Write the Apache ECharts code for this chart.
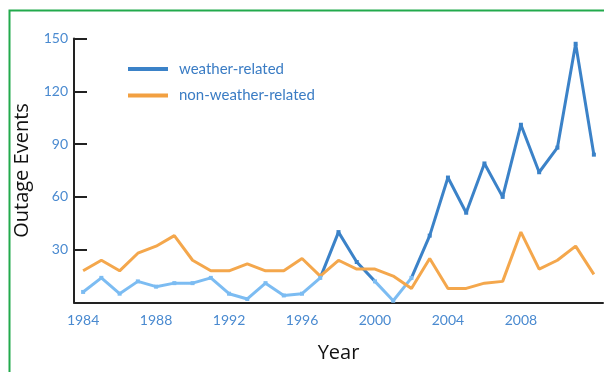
<!DOCTYPE html>
<html><head><meta charset="utf-8">
<script src="https://cdn.jsdelivr.net/npm/echarts@6/dist/echarts.min.js"></script>
<style>html,body{margin:0;padding:0;background:#fff}#c{width:604px;height:372px}</style>
</head><body><div id="c"></div>
<script>
var years = [];
for (var y = 1984; y <= 2012; y++) years.push(String(y));
var weatherRelated = [6, 14, 5, 12, 9, 11, 11, 14, 5, 2, 11, 4, 5, 14, 40, 23, 12, 1, 14, 38, 71, 51, 79, 60, 101, 74, 88, 147, 84];
var nonWeatherRelated = [18, 24, 18, 28, 32, 38, 24, 18, 18, 22, 18, 18, 25, 15, 24, 19, 19, 15, 8, 25, 8, 8, 11, 12, 40, 19, 24, 32, 16];
var yTicks = { min: 0, max: 150, interval: 30 };

var chart = echarts.init(document.getElementById('c'), null, { renderer: 'canvas' });
var labelFont = 'Lato, "DejaVu Sans", sans-serif';
chart.setOption({
  animation: false,
  backgroundColor: '#ffffff',
  graphic: [{
    type: 'rect', left: 7, top: 8, silent: true,
    shape: { width: 640, height: 363 },
    style: { fill: 'none', stroke: '#22aa4c', lineWidth: 2 }
  }],
  grid: { left: 74, right: 1, top: 38.5, bottom: 69.5, containLabel: false },
  legend: {
    orient: 'vertical', left: 123, top: 56, itemGap: 10.5,
    itemWidth: 40, itemHeight: 4, icon: 'rect',
    textStyle: { color: '#3a7cc4', fontSize: 15, fontFamily: labelFont, lineHeight: 16, padding: [0, 0, 0, 6] },
    data: [
      { name: 'weather-related', itemStyle: { color: '#3b82c8' } },
      { name: 'non-weather-related', itemStyle: { color: '#f2a041' } }
    ]
  },
  visualMap: {
    show: false, type: 'piecewise', seriesIndex: 0, dimension: 0,
    pieces: [
      { lt: 13.3, color: '#7cbcf2' },
      { gte: 13.3, lt: 15.6, color: '#3b82c8' },
      { gte: 15.6, lt: 18.3, color: '#7cbcf2' },
      { gte: 18.3, color: '#3b82c8' }
    ]
  },
  xAxis: {
    type: 'category', data: years, boundaryGap: true,
    name: 'Year', nameLocation: 'middle', nameGap: 41,
    nameTextStyle: { color: '#111', fontSize: 20, fontFamily: '"Open Sans", sans-serif' },
    axisLine: { lineStyle: { color: '#222', width: 2 } },
    axisTick: { show: false },
    axisLabel: {
      color: '#4a8ad0', fontSize: 14, fontFamily: labelFont, margin: 11,
      interval: function (i) { return i % 4 === 0 && i < 28; }
    }
  },
  yAxis: {
    type: 'value', min: yTicks.min, max: yTicks.max, interval: yTicks.interval,
    name: 'Outage Events', nameLocation: 'middle', nameGap: 37, nameRotate: 90,
    nameTextStyle: { color: '#111', fontSize: 20, fontFamily: '"Open Sans", sans-serif' },
    axisLine: { show: true, lineStyle: { color: '#222', width: 2 } },
    axisTick: { show: true, inside: true, length: 13, lineStyle: { color: '#222', width: 2 } },
    axisLabel: { color: '#4a8ad0', fontSize: 14, fontFamily: labelFont, margin: 6, showMinLabel: false },
    splitLine: { show: false }
  },
  series: [
    {
      name: 'weather-related', type: 'line', data: weatherRelated,
      color: '#3b82c8', lineStyle: { width: 3 },
      symbol: 'rect', symbolSize: 4, showSymbol: true
    },
    {
      name: 'non-weather-related', type: 'line', data: nonWeatherRelated,
      color: '#f2a041', lineStyle: { width: 3, color: '#f4a74c' },
      symbol: 'none'
    }
  ]
});
</script></body></html>
